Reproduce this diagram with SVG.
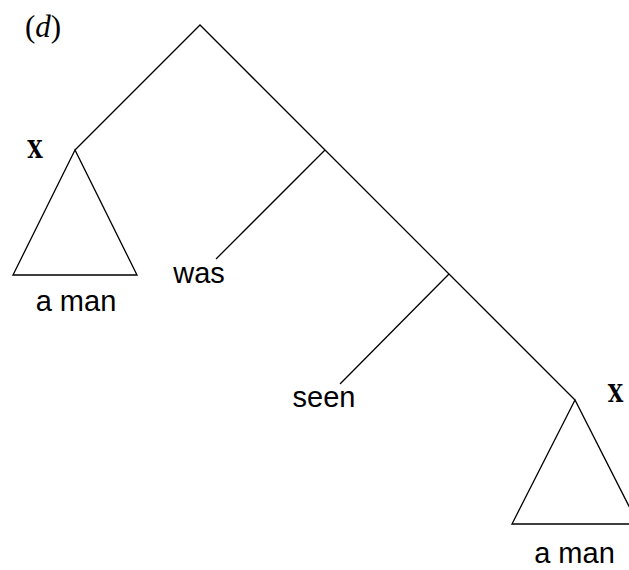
<svg xmlns="http://www.w3.org/2000/svg" width="629" height="570" viewBox="0 0 629 570">
<style>
.e{stroke:#000;stroke-width:1.3;fill:none;stroke-linejoin:miter}
.w{font-family:"Liberation Sans",Arial,sans-serif;font-size:29px;text-anchor:middle;fill:#000}
.x{font-family:"DejaVu Serif",serif;font-weight:bold;font-size:25px;text-anchor:middle;fill:#000}
.d{font-family:"Liberation Serif","Times New Roman",serif;font-size:31px;fill:#000}
</style>
<rect width="629" height="570" fill="#fff"/>
<text class="d" x="25" y="37">(<tspan font-style="italic">d</tspan>)</text>
<g id="connectors">
<polyline class="e" points="75,150 200,25 575,400"/>
<line class="e" x1="325" y1="150" x2="216" y2="259"/>
<line class="e" x1="449" y1="274" x2="340" y2="384"/>
</g>
<g id="x-left">
<polygon class="e" points="75,150 13,275 137,275"/>
<text class="x" transform="translate(35,158) scale(0.8,1)">X</text>
<text class="w" x="76" y="311">a man</text>
</g>
<g id="was"><text class="w" x="199" y="283">was</text></g>
<g id="seen"><text class="w" x="324" y="407">seen</text></g>
<g id="x-right">
<polygon class="e" points="575,400 512,524 638,524"/>
<text class="x" transform="translate(615.5,402) scale(0.8,1)">X</text>
<text class="w" x="574.5" y="563">a man</text>
</g>
</svg>
